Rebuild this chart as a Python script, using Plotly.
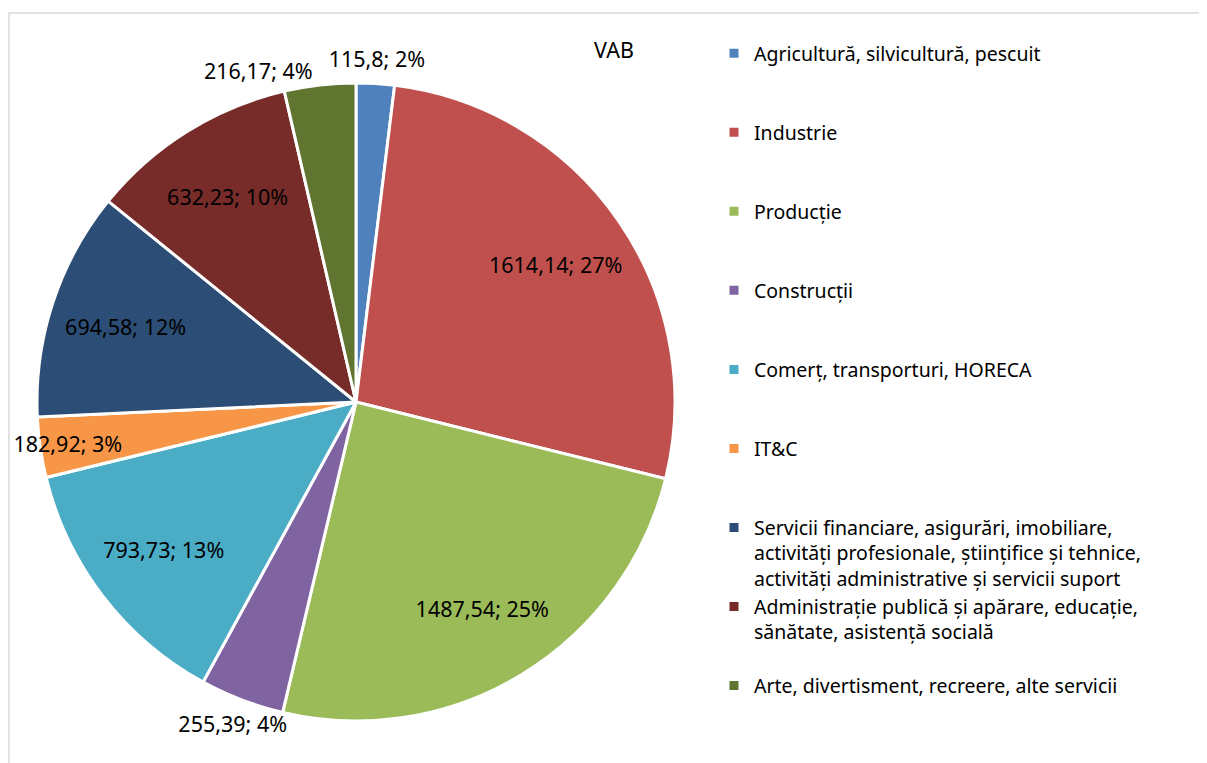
import plotly.graph_objects as go

# Datele din grafic (VAB pe sectoare)
sectoare = [
    'Agricultură, silvicultură, pescuit',
    'Industrie',
    'Producție',
    'Construcții',
    'Comerț, transporturi, HORECA',
    'IT&C',
    'Servicii financiare, asigurări, imobiliare,<br>activități profesionale, științifice și tehnice,<br>activități administrative și servicii suport',
    'Administrație publică și apărare, educație,<br>sănătate, asistență socială',
    'Arte, divertisment, recreere, alte servicii',
]
valori = [115.8, 1614.14, 1487.54, 255.39, 793.73, 182.92, 694.58, 632.23, 216.17]
procente = ['2%', '27%', '25%', '4%', '13%', '3%', '12%', '10%', '4%']
culori = ['#4F81BD', '#C0504D', '#9BBB59', '#8064A2', '#4BACC6',
          '#F79646', '#2C4D75', '#772C2A', '#5F7530']
# unde sta eticheta fiecarei felii: in interior, pe inelul exterior sau in afara
loc_eticheta = ['inel', 'interior', 'interior', 'inel', 'interior',
                'interior', 'interior', 'interior', 'afara']

# Etichete: valoare cu virgula zecimala + procent
etichete = [f"{str(v).replace('.', ',')}; {p}" for v, p in zip(valori, procente)]

# Fiecare intrare din legenda ocupa trei randuri, ca in original
legenda = []
for s in sectoare:
    n = s.count('<br>') + 1
    legenda.append(s + '<br> ' * (3 - n))

FONT = 'Noto Sans'
text_font = dict(family=FONT, size=21.5, color='black')
W, H = 1207, 763

# pagina are margine de 8px, deci coordonatele sunt deplasate
cx, cy, r = 348, 394, 319
dom_x = [(cx - r) / W, (cx + r) / W]
dom_y = [(H - cy - r) / H, (H - cy + r) / H]
r2 = cx
dom2_x = [0, 2 * cx / W]
dom2_y = [(H - cy - r2) / H, (H - cy + r2) / H]

comun = dict(labels=legenda, values=valori, text=etichete, textinfo='text',
             sort=False, direction='clockwise', rotation=0,
             insidetextorientation='horizontal', textfont=text_font,
             hoverinfo='skip')
transparent = dict(colors=['rgba(0,0,0,0)'] * len(valori),
                   line=dict(width=0))

fig = go.Figure()

# felii colorate (+ eticheta din afara)
fig.add_trace(go.Pie(
    **comun,
    textposition=['outside' if l == 'afara' else 'none' for l in loc_eticheta],
    marker=dict(colors=culori, line=dict(color='white', width=3)),
    domain=dict(x=dom_x, y=dom_y),
))

# etichete interioare, puse pe un inel transparent
fig.add_trace(go.Pie(
    **comun,
    hole=0.52,
    textposition=['inside' if l == 'interior' else 'none' for l in loc_eticheta],
    marker=transparent,
    showlegend=False,
    domain=dict(x=dom_x, y=dom_y),
))

# etichete mici, chiar langa marginea cercului
fig.add_trace(go.Pie(
    **comun,
    hole=0.98,
    textposition=['inside' if l == 'inel' else 'none' for l in loc_eticheta],
    marker=transparent,
    showlegend=False,
    domain=dict(x=dom2_x, y=dom2_y),
))

fig.update_layout(
    width=W,
    height=H,
    margin=dict(l=0, r=0, t=0, b=0),
    paper_bgcolor='white',
    font=dict(family=FONT, size=19.5, color='black'),
    title=dict(text='VAB', x=606 / W, xanchor='center', y=1 - 42 / H,
               yanchor='middle', font=text_font),
    uniformtext=dict(minsize=21.5, mode='show'),
    legend=dict(
        x=706 / W, xanchor='left',
        y=1 - 26 / H, yanchor='top',
        valign='top',
        font=dict(family=FONT, size=19.5, color='black'),
        bgcolor='rgba(0,0,0,0)',
    ),
    shapes=[dict(type='rect', xref='paper', yref='paper',
                 x0=1 / W, x1=1198 / W, y0=-0.01, y1=1 - 5 / H,
                 line=dict(color='#D9D9D9', width=1.5), layer='below')],
)

fig.write_html('out.html')
